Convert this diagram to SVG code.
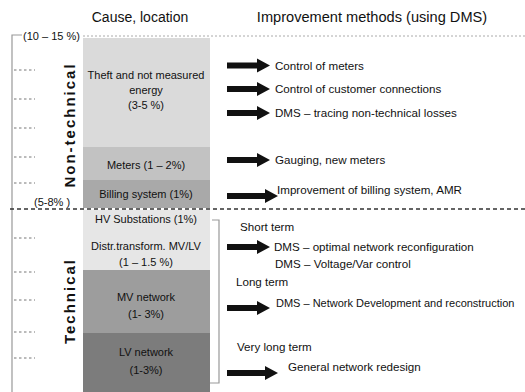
<svg xmlns="http://www.w3.org/2000/svg" width="525" height="392" viewBox="0 0 525 392">
<style>
text{font-family:"Liberation Sans",Arial,sans-serif;fill:#111}
.hd{font-size:14px}
.c{font-size:11px;text-anchor:middle}
.m{font-size:11.6px}
.side{font-size:15px;font-weight:bold;text-anchor:middle;letter-spacing:2px}
.pct{font-size:11px}
.tick{stroke:#777;stroke-width:1;stroke-dasharray:2.5,2.5}
.arr{fill:#111}
.br{fill:none;stroke:#999;stroke-width:1.2}
</style>
<rect width="525" height="392" fill="#fff"/>
<g id="headers">
<text class="hd" x="140" y="22" text-anchor="middle">Cause, location</text>
<text class="hd" x="372" y="22" text-anchor="middle" style="font-size:14.6px">Improvement methods (using DMS)</text>
</g>
<g id="scale">
<path class="br" d="M22,35 H12 V392"/>
<text class="pct" x="23" y="40">(10 – 15 %)</text>
<line x1="83" y1="36" x2="525" y2="36" stroke="#aaa" stroke-width="1" stroke-dasharray="2,2"/>
<text class="pct" x="34" y="206">(5-8% )</text>
<line x1="10" y1="209" x2="525" y2="209" stroke="#333" stroke-width="1.5" stroke-dasharray="4,3"/>
<g>
<line class="tick" x1="14" y1="70" x2="35" y2="70"/>
<line class="tick" x1="14" y1="99" x2="35" y2="99"/>
<line class="tick" x1="14" y1="128" x2="35" y2="128"/>
<line class="tick" x1="14" y1="157" x2="35" y2="157"/>
<line class="tick" x1="14" y1="183" x2="35" y2="183"/>
<line class="tick" x1="14" y1="238" x2="35" y2="238"/>
<line class="tick" x1="14" y1="272" x2="35" y2="272"/>
<line class="tick" x1="14" y1="300" x2="35" y2="300" stroke="#aaa"/>
<line class="tick" x1="14" y1="332" x2="35" y2="332"/>
<line class="tick" x1="14" y1="358" x2="35" y2="358"/>
</g>
<text class="side" transform="translate(75,125) rotate(-90)">Non-technical</text>
<text class="side" transform="translate(75,301) rotate(-90)">Technical</text>
<path class="br" d="M212,220 H219 V383 H210"/>
</g>
<g id="theft">
<rect x="83" y="38" width="127" height="109" fill="#dadada"/>
<text class="c" x="146" y="79">Theft and not measured</text>
<text class="c" x="146" y="94">energy</text>
<text class="c" x="146" y="109">(3-5 %)</text>
</g>
<g id="meters">
<rect x="83" y="147" width="127" height="33" fill="#c2c2c2"/>
<text class="c" x="146" y="169">Meters (1 – 2%)</text>
</g>
<g id="billing">
<rect x="83" y="180" width="127" height="28" fill="#a9a9a9"/>
<text class="c" x="146" y="198">Billing system (1%)</text>
</g>
<g id="hv">
<rect x="83" y="210" width="127" height="60" fill="#e6e6e6"/>
<text class="c" x="146" y="223">HV Substations (1%)</text>
</g>
<g id="distr">
<text class="c" x="146" y="250">Distr.transform. MV/LV</text>
<text class="c" x="146" y="266">(1 – 1.5 %)</text>
</g>
<g id="mv">
<rect x="83" y="270" width="127" height="63" fill="#9d9d9d"/>
<text class="c" x="146" y="301">MV network</text>
<text class="c" x="146" y="318">(1- 3%)</text>
</g>
<g id="lv">
<rect x="83" y="333" width="127" height="59" fill="#7c7c7c"/>
<text class="c" x="146" y="356">LV network</text>
<text class="c" x="146" y="374">(1-3%)</text>
</g>
<g id="connectors">
<path class="arr" d="M227,62.5 H257 V58.5 L270,65.5 L257,72.5 V68.5 H227 Z"/>
<path class="arr" d="M227,86 H257 V82 L270,89 L257,96 V92 H227 Z"/>
<path class="arr" d="M227,110 H257 V106 L270,113 L257,120 V116 H227 Z"/>
<path class="arr" d="M227,157 H257 V153 L270,160 L257,167 V163 H227 Z"/>
<path class="arr" d="M227,193 H265 V189 L278,196 L265,203 V199 H227 Z"/>
<path class="arr" d="M227,244 H257 V240 L270,247 L257,254 V250 H227 Z"/>
<path class="arr" d="M227,305 H257 V301 L270,308 L257,315 V311 H227 Z"/>
<path class="arr" d="M227,370 H265 V366 L278,373 L265,380 V376 H227 Z"/>
</g>
<g id="methods">
<text class="m" x="275" y="70">Control of meters</text>
<text class="m" x="275" y="93">Control of customer connections</text>
<text class="m" x="275" y="117">DMS – tracing non-technical losses</text>
<text class="m" x="275" y="164">Gauging, new meters</text>
<text class="m" x="277" y="194">Improvement of billing system, AMR</text>
<text class="m" x="240" y="231">Short term</text>
<text class="m" x="274" y="251">DMS – optimal network reconfiguration</text>
<text class="m" x="275" y="268">DMS – Voltage/Var control</text>
<text class="m" x="236" y="286">Long term</text>
<text class="m" x="276" y="307" style="font-size:11px">DMS – Network Development and reconstruction</text>
<text class="m" x="237" y="351">Very long term</text>
<text class="m" x="288" y="371">General network redesign</text>
</g>
</svg>
